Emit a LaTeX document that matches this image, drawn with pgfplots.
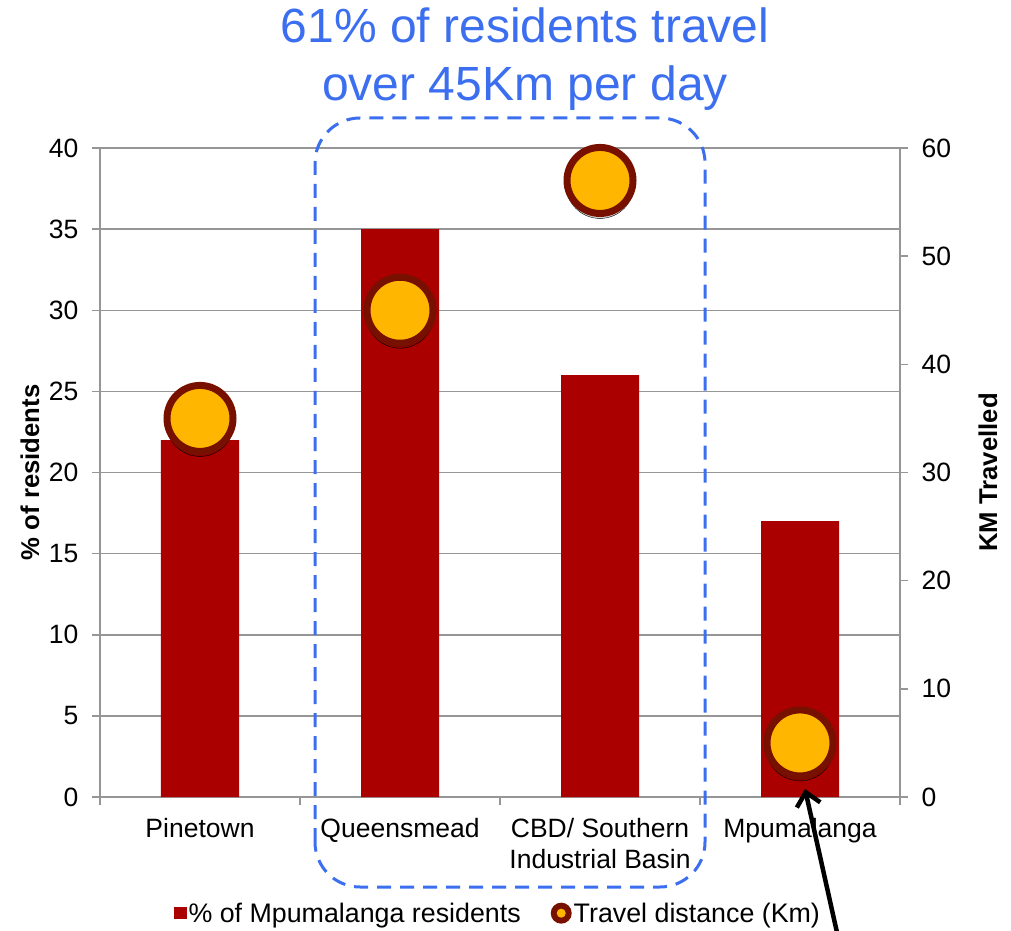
\documentclass[border=0pt]{standalone}
\usepackage{fontspec}
\setmainfont{Liberation Sans}
\usepackage{pgfplots}
\pgfplotsset{compat=1.18}
\usetikzlibrary{arrows.meta}
\definecolor{barred}{RGB}{170,0,0}
\definecolor{ring}{RGB}{120,16,0}
\definecolor{gold}{RGB}{255,182,0}
\definecolor{tblue}{RGB}{60,110,240}
\definecolor{gridgray}{RGB}{150,150,150}

\pgfplotstableread{
x pct
0 22
1 35
2 26
3 17
}\pcttable
\pgfplotstableread{
x km
0 35
1 45
2 57
3 5
}\kmtable

\begin{document}
\begin{tikzpicture}[x=1pt,y=1pt]
\path[use as bounding box] (-100,-133) rectangle (911,797);
\begin{axis}[
  at={(0,0)}, anchor=south west, scale only axis,
  width=800pt, height=649pt,
  xmin=-0.5, xmax=3.5, ymin=0, ymax=40,
  axis y line*=left, axis x line*=bottom,
  axis line style={gridgray, line width=1.5pt},
  xtick={-0.5,0.5,1.5,2.5,3.5},
  x tick label as interval,
  xticklabels={Pinetown,Queensmead,{CBD/ Southern\\Industrial Basin},Mpumalanga},
  x tick label style={font=\fontsize{26.5}{31}\selectfont, align=center, anchor=north, yshift=-10pt},
  ytick={0,5,...,40},
  y tick label style={font=\fontsize{26.5}{30}\selectfont, xshift=-10pt},
  /pgf/number format/assume math mode=true,
  tick align=outside, major tick length=8pt,
  tick style={gridgray, line width=1.5pt},
  ymajorgrids, major grid style={gridgray, line width=1.5pt},
  ylabel={\% of residents},
  ylabel style={at={(axis description cs:-0.0875,0.5)}, anchor=center, font=\bfseries\fontsize{25.7}{30}\selectfont},
  clip=false,
]
\addplot[ybar, bar width=78pt, fill=barred, draw=none] table[x=x, y=pct] {\pcttable};
\end{axis}
\begin{axis}[
  at={(0,0)}, anchor=south west, scale only axis,
  width=800pt, height=649pt,
  xmin=-0.5, xmax=3.5, ymin=0, ymax=60,
  axis y line*=right, axis x line=none,
  axis line style={gridgray, line width=1.5pt},
  ytick={0,10,...,60},
  y tick label style={font=\fontsize{26.5}{30}\selectfont, xshift=10pt},
  /pgf/number format/assume math mode=true,
  tick align=outside, major tick length=8pt,
  tick style={gridgray, line width=1.5pt},
  ylabel={KM Travelled},
  ylabel style={at={(axis description cs:1.11,0.5)}, anchor=center, rotate=0, font=\bfseries\fontsize{25.7}{30}\selectfont},
  clip=false,
  legend columns=2,
  legend style={at={(axis description cs:0.4975,-0.179)}, anchor=center, draw=none, fill=none,
    font=\fontsize{26.8}{30}\selectfont, /tikz/every even column/.append style={column sep=28pt}},
]
\addlegendimage{legend image code/.code={\path[fill=barred, draw=none] (0pt,-6.25pt) rectangle (12.5pt,6.25pt);}}
\addlegendentry{\% of Mpumalanga residents}
\addplot[only marks, mark=*, mark size=34pt, draw=none, fill=black, fill opacity=0.18,
  every mark/.append style={yshift=-4pt}, forget plot] table[x=x, y=km] {\kmtable};
\addplot[only marks, mark=*, mark size=33pt, line width=7pt, draw=ring, fill=gold,
  legend image code/.code={\path[fill=ring, draw=none, line width=0pt] (10pt,0pt) circle (10.5pt); \path[fill=gold, draw=none] (10pt,0pt) circle (4.5pt);}]
  table[x=x, y=km] {\kmtable};
\addlegendentry{Travel distance (Km)}
\end{axis}
\node[align=center, text=tblue, font=\fontsize{48}{58}\selectfont] at (425,738) {61\% of residents travel\\over 45Km per day};
\draw[tblue, line width=3pt, dash pattern=on 14pt off 9pt, rounded corners=45pt] (215,-90) rectangle (605,679);
\draw[black, line width=4.5pt, -{Straight Barb[length=13pt,width=24pt]}] (738,-140) -- (705,8);
\end{tikzpicture}
\end{document}
